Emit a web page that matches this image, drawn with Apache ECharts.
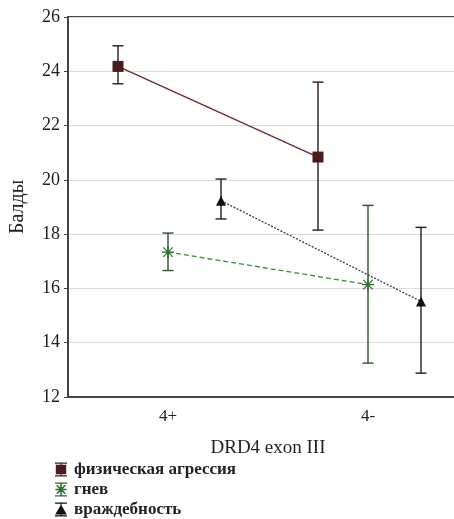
<!DOCTYPE html>
<html><head><meta charset="utf-8">
<script src="https://cdn.jsdelivr.net/npm/echarts@6/dist/echarts.min.js"></script>
<style>html,body{margin:0;padding:0;background:#fff}#c{width:454px;height:519px}</style>
</head><body><div id="c"></div>
<script>
var categories = ['4+', '4-'];
var seriesNames = ['физическая агрессия', 'гнев', 'враждебность'];
var offsets = [-0.25, 0, 0.265];
var meanAgg = [24.18, 20.84];
var lowAgg = [23.54, 18.15];
var highAgg = [24.94, 23.6];
var meanAnger = [17.34, 16.14];
var lowAnger = [16.66, 13.25];
var highAnger = [18.04, 19.06];
var meanHost = [19.23, 15.52];
var lowHost = [18.56, 12.88];
var highHost = [20.03, 18.25];
var yTicks = {min: 12, max: 26, interval: 2};

var FONT = '"Liberation Serif", "DejaVu Serif", serif';
var means = [meanAgg, meanAnger, meanHost];
var lows = [lowAgg, lowAnger, lowHost];
var highs = [highAgg, highAnger, highHost];
var lineColors = ['#6e2a2a', '#3d8a3d', '#3e3556'];
var markerColors = ['#4a1c1c', '#2e6b2e', '#111111'];
var barColors = ['#2a1a1a', '#2f4f2f', '#1e1e1e'];
var lineTypes = ['solid', [5, 3], [2, 1.5]];
var asterisk = 'path://M9,0H11V20H9Z M0,9H20V11H0Z M1.4,2.8L2.8,1.4L18.6,17.2L17.2,18.6Z M17.2,1.4L18.6,2.8L2.8,18.6L1.4,17.2Z';
var symbols = ['rect', asterisk, 'triangle'];
var symbolSizes = [11, 12, 10];
var legendIcons = [
  'path://M0,0H12V1.2H0Z M0,12.8H12V14H0Z M5.4,1H6.6V13H5.4Z M0.8,2.2H11.2V11.8H0.8Z',
  'path://M0,0H12V1.2H0Z M0,12.8H12V14H0Z M5.2,1H6.8V13H5.2Z M0.5,6.2H11.5V7.8H0.5Z M1.2,3.2L2.4,2.2L10.8,10.8L9.6,11.8Z M9.6,2.2L10.8,3.2L2.4,11.8L1.2,10.8Z',
  'path://M0,0H12V1.2H0Z M0,12.8H12V14H0Z M5.4,1H6.6V13H5.4Z M6,2L11.8,12H0.2Z'
];

var series = [];
for (var s = 0; s < 3; s++) {
  var bars = [], pts = [];
  for (var i = 0; i < categories.length; i++) {
    var x = i + 1 + offsets[s];
    bars.push([x, lows[s][i], highs[s][i]]);
    pts.push([x, means[s][i]]);
  }
  (function (col) {
    series.push({
      type: 'custom', xAxisIndex: 1, yAxisIndex: 0, z: 2, silent: true,
      data: bars,
      renderItem: function (params, api) {
        var lo = api.coord([api.value(0), api.value(1)]);
        var hi = api.coord([api.value(0), api.value(2)]);
        var hw = 5.5;
        var st = {stroke: col, lineWidth: 1.4};
        return {type: 'group', children: [
          {type: 'line', shape: {x1: lo[0], y1: lo[1], x2: hi[0], y2: hi[1]}, style: st},
          {type: 'line', shape: {x1: hi[0] - hw, y1: hi[1], x2: hi[0] + hw, y2: hi[1]}, style: st},
          {type: 'line', shape: {x1: lo[0] - hw, y1: lo[1], x2: lo[0] + hw, y2: lo[1]}, style: st}
        ]};
      }
    });
  })(barColors[s]);
  series.push({
    name: seriesNames[s], type: 'line', xAxisIndex: 1, yAxisIndex: 0, z: 3,
    data: pts, symbol: symbols[s], symbolSize: symbolSizes[s], showSymbol: true,
    lineStyle: {color: lineColors[s], width: 1.3, type: lineTypes[s]},
    itemStyle: {color: markerColors[s], borderWidth: 0},
    animation: false
  });
}

var chart = echarts.init(document.getElementById('c'));
chart.setOption({
  animation: false,
  backgroundColor: '#fff',
  grid: {left: 68, top: 17, width: 400, height: 380, outerBoundsMode: 'none', containLabel: false,
    show: true, borderColor: '#444', borderWidth: 2, backgroundColor: 'transparent'},
  xAxis: [{
    type: 'category', data: categories, boundaryGap: true, position: 'bottom',
    name: 'DRD4 exon III', nameLocation: 'middle', nameGap: 42,
    nameTextStyle: {fontFamily: FONT, fontSize: 19, color: '#222'},
    axisLine: {lineStyle: {color: '#444', width: 2}},
    axisTick: {alignWithLabel: true, inside: true, length: 3, lineStyle: {color: '#444'}},
    axisLabel: {fontFamily: FONT, fontSize: 17, color: '#222', margin: 11},
    splitLine: {show: false}
  }, {
    type: 'value', min: 0.5, max: 2.5, show: false, position: 'bottom'
  }],
  yAxis: [{
    type: 'value', min: yTicks.min, max: yTicks.max, interval: yTicks.interval,
    name: 'Балды', nameLocation: 'middle', nameGap: 40,
    nameTextStyle: {fontFamily: FONT, fontSize: 20, color: '#222'},
    axisLine: {show: true, lineStyle: {color: '#444', width: 2}},
    axisTick: {show: true, length: 4, lineStyle: {color: '#444'}},
    axisLabel: {fontFamily: FONT, fontSize: 18, color: '#222', margin: 8},
    splitLine: {show: true, lineStyle: {color: '#dcdcdc', width: 1}}
  }],
  legend: {
    orient: 'vertical', left: 55, top: 461, height: 58, padding: 0, itemGap: 3, itemWidth: 14, itemHeight: 14,
    data: seriesNames.map(function (n, k) { return {name: n, icon: legendIcons[k]}; }),
    textStyle: {fontFamily: FONT, fontSize: 17, fontWeight: 'bold', color: '#222', padding: [0, 0, 0, 1]},
    selectedMode: false
  },
  series: series
});
</script>
</body></html>
